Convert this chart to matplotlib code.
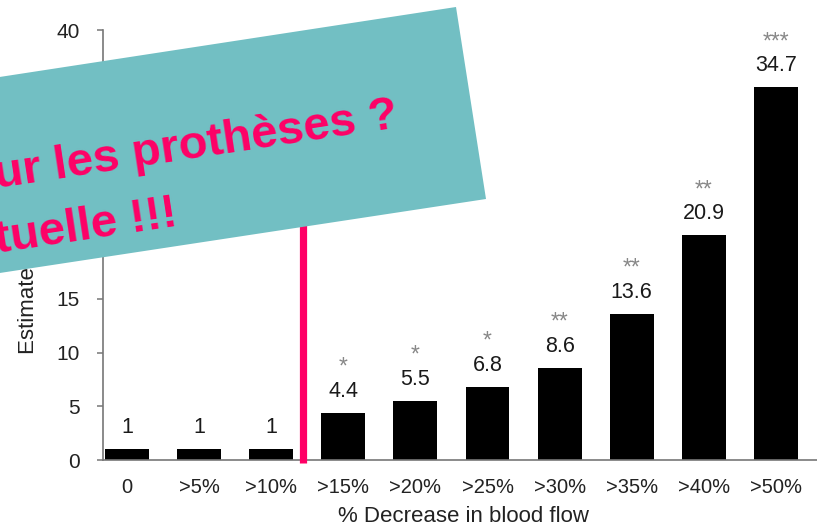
import matplotlib
matplotlib.use("Agg")
import matplotlib.pyplot as plt
from matplotlib.patches import Polygon

plt.rcParams['font.family'] = ['Liberation Sans', 'DejaVu Sans']

categories = ['0', '>5%', '>10%', '>15%', '>20%', '>25%', '>30%', '>35%', '>40%', '>50%']
values = [1, 1, 1, 4.4, 5.5, 6.8, 8.6, 13.6, 20.9, 34.7]
value_labels = ['1', '1', '1', '4.4', '5.5', '6.8', '8.6', '13.6', '20.9', '34.7']
stars = ['', '', '', '*', '*', '*', '**', '**', '**', '***']
y_ticks = [0, 5, 10, 15, 20, 25, 30, 35, 40]
x_label = '% Decrease in blood flow'
y_label = 'Estimated odds ratio'
banner_line1 = 'ur les prothèses ?'
banner_line2 = 'tuelle !!!'

W, H = 817, 530
fig = plt.figure(figsize=(W / 100, H / 100), dpi=100)
fig.patch.set_facecolor('white')


def fx(px):
    return px / W


def fy(py):
    return 1 - py / H


ax = fig.add_axes([fx(103), fy(460), fx(817) - fx(103), fy(30) - fy(460)])
x = list(range(len(categories)))
ax.bar(x, values, width=0.61, color='black', zorder=2)
ax.set_xlim(-0.333, 9.57)
ax.set_ylim(0, 40)
ax.set_yticks(y_ticks)
ax.set_yticklabels([str(t) for t in y_ticks])
ax.set_xticks(x)
ax.set_xticklabels(categories)

for s in ['top', 'right']:
    ax.spines[s].set_visible(False)
for s in ['left', 'bottom']:
    ax.spines[s].set_color('#777777')
    ax.spines[s].set_linewidth(1.2)

ax.tick_params(axis='y', direction='out', length=4.5, width=1.1, color='#777777',
               labelsize=15, labelcolor='#222222', pad=12)
ax.tick_params(axis='x', length=0, labelsize=14.5, labelcolor='#222222', pad=13)

for xi, v, lab, st in zip(x, values, value_labels, stars):
    ax.annotate(lab, (xi, v), xytext=(0, 11.5), textcoords='offset points',
                ha='center', va='baseline', fontsize=15.5, color='#1a1a1a')
    if st:
        ax.annotate(st, (xi, v), xytext=(0, 28), textcoords='offset points',
                    ha='center', va='baseline', fontsize=16.5, color='#888888')

# pink separator line
ax.plot([2.44, 2.44], [-0.3, 38], color='#FF0066', linewidth=5.2,
        solid_capstyle='butt', zorder=3, clip_on=False)

fig.text(fx(29), fy(354), y_label, rotation=90, ha='center', va='bottom',
         fontsize=16, color='#222222')
fig.text(fx(464), fy(517), x_label, ha='center', va='center',
         fontsize=16, color='#222222')

# banner overlay
corners = [(-20, 80), (456, 7), (486, 199), (-20, 276)]
banner = Polygon([(fx(a), fy(b)) for a, b in corners], closed=True,
                 transform=fig.transFigure, facecolor='#72BFC3', edgecolor='none',
                 zorder=5)
fig.patches.append(banner)

fig.text(fx(-3), fy(188), banner_line1, rotation=8.6, rotation_mode='anchor',
         ha='left', va='baseline', fontsize=34, fontweight='bold', color='#FF0066',
         zorder=6)
fig.text(fx(-3), fy(253), banner_line2, rotation=8.6, rotation_mode='anchor',
         ha='left', va='baseline', fontsize=34, fontweight='bold', color='#FF0066',
         zorder=6)

fig.savefig('out.png', dpi=100)
